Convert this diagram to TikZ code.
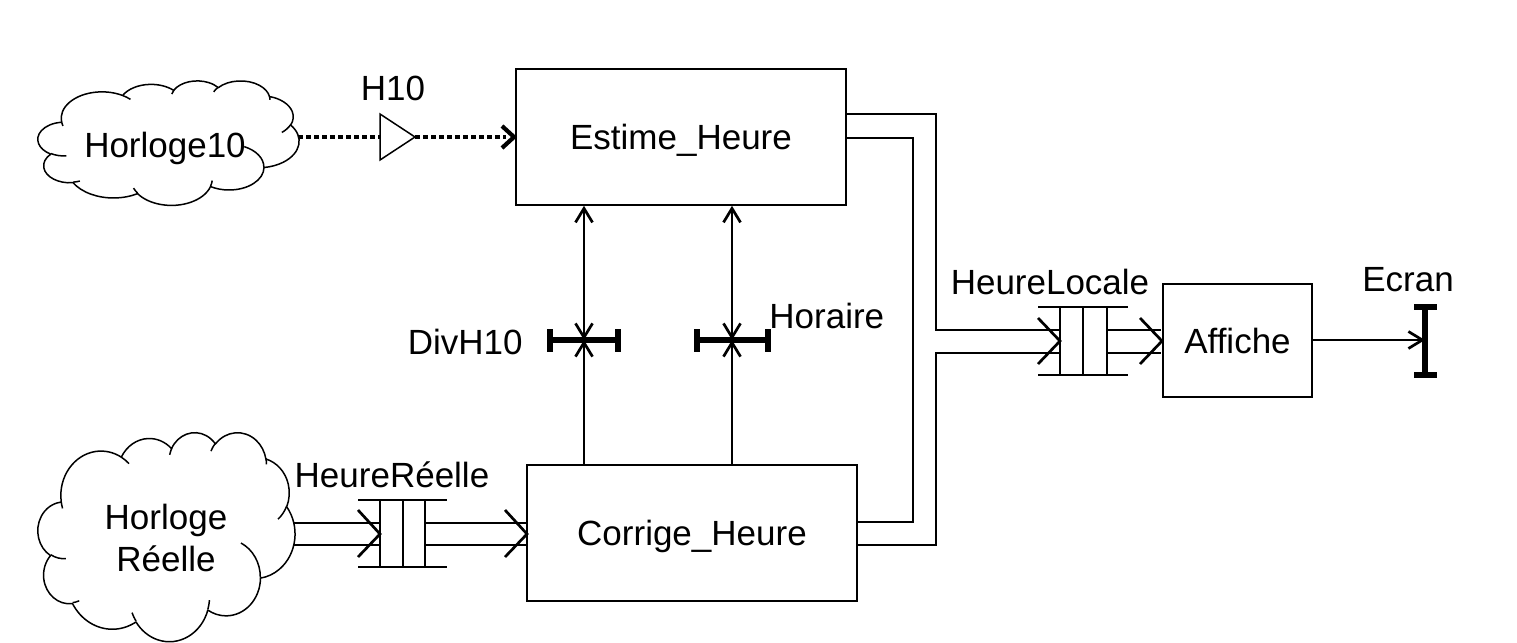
\documentclass[tikz,border=0pt]{standalone}
\usepackage{fontspec}
\setmainfont{Liberation Sans}
\usetikzlibrary{arrows.meta}
\newcommand\drawofficecloud{%
    \draw[cloudln] (390,1437)
      arc[start angle=-187.75, end angle=-59.64, x radius=675.3, y radius=919.0]
      arc[start angle=-152.02, end angle=-45.46, x radius=533.3, y radius=726.7]
      arc[start angle=-153.48, end angle=-37.32, x radius=436.5, y radius=594.5]
      arc[start angle=-139.70, end angle=-10.21, x radius=485.7, y radius=659.5]
      arc[start angle=-74.77, end angle=23.21, x radius=533.3, y radius=727.3]
      arc[start angle=-37.53, end angle=81.87, x radius=677.5, y radius=922.0]
      arc[start angle=0.46, end angle=121.98, x radius=578.5, y radius=786.7]
      arc[start angle=16.85, end angle=146.22, x radius=675.2, y radius=921.5]
      arc[start angle=58.98, end angle=150.19, x radius=772.0, y radius=1054.3]
      arc[start angle=83.30, end angle=223.12, x radius=436.0, y radius=591.8]
      arc[start angle=120.36, end angle=264.11, x radius=434.5, y radius=594.5]
      -- cycle;
    \draw[cloudln]
      (469.3,2617.7) arc[start angle=85.55, end angle=120.36, x radius=434.5, y radius=594.5]
      (692.8,3489.9) arc[start angle=68.23, end angle=83.30, x radius=436.0, y radius=591.8]
      (1647.8,3909.0) arc[start angle=146.22, end angle=158.47, x radius=675.2, y radius=921.5]
      (2882.7,3475.1) arc[start angle=4.74, end angle=16.85, x radius=675.2, y radius=921.5]
      (3412.9,2295.4) arc[start angle=-64.03, end angle=0.46, x radius=578.5, y radius=786.7]
      (4179.8,1535.4) arc[start angle=23.21, end angle=49.64, x radius=533.3, y radius=727.3]
      (3832.4,542.6) arc[start angle=-10.21, end angle=0.82, x radius=485.7, y radius=659.5]
      (2907.8,395.2) arc[start angle=-156.29, end angle=-139.70, x radius=485.7, y radius=659.5]
      (2214.1,472.0) arc[start angle=-167.73, end angle=-153.48, x radius=436.5, y radius=594.5]
      (1400.0,519.2) arc[start angle=-59.64, end angle=-45.74, x radius=675.3, y radius=919.0]
      (412.7,1578.9) arc[start angle=163.20, end angle=172.25, x radius=675.3, y radius=919.0];
}
\begin{document}
\begin{tikzpicture}[x=0.5pt,y=-0.5pt,
  every node/.style={font=\fontsize{17.5}{21}\selectfont, inner sep=0pt},
  capc/.style={text height=12.6pt, text depth=0pt},
  box/.style={draw, line width=0.8pt, minimum width=165pt, minimum height=68pt, capc},
  cloudln/.style={line width=0.75pt, line join=round},
  ln/.style={line width=1.35pt},
  tip/.style={-{Straight Barb[length=7pt,width=8.5pt]}},
  bitip/.style={{Straight Barb[length=7pt,width=8.5pt]}-{Straight Barb[length=7pt,width=8.5pt]}},
  barln/.style={line width=2.7pt},
  chev/.style={line width=1.35pt, line join=miter},
  dotln/.style={line width=2.1pt, dash pattern=on 2.5pt off 1.5pt},
]
\useasboundingbox (0,0) rectangle (1517,643);

% processes
\node[box] (est) at (681,137) {Estime\_Heure};
\node[box] (cor) at (692,533) {Corrige\_Heure};
\node[box, minimum width=74.5pt, minimum height=56.5pt] (aff) at (1237.5,340.5) {Affiche};

% clouds (external entities)
\begin{scope}[shift={(38,80.5)}, x=0.0302085pt, y=-0.0144097pt]
  \drawofficecloud
\end{scope}
\node[capc] (c1) at (165,144.5) {Horloge10};
\begin{scope}[shift={(38,432)}, x=0.0297454pt, y=-0.0241898pt]
  \drawofficecloud
\end{scope}
\node[align=center] (c2) at (166,537.5) {Horloge\\Réelle};
\coordinate (c1e) at (298,137);
\coordinate (c2a) at (294,523);
\coordinate (c2b) at (294,545);

% H10 signal
\node (h10) at (393,88) {H10};
\coordinate (trL) at (380,137);
\coordinate (trR) at (415,137);
\draw[line width=0.75pt] (380,114) -- (trR) -- (380,160) -- cycle;
\draw[dotln] (c1e) -- (trL);
\draw[dotln] (trR) -- (506,137);
\draw[line width=2.1pt, line join=miter] (502,126) -- (514,137) -- (502,148);

% shared variables
\node[anchor=east] (divh) at (523,342) {DivH10};
\node[anchor=west] (hor) at (769,316) {Horaire};
\coordinate (v1) at (584,340);
\coordinate (v2) at (732,340);
\draw[ln, bitip] (est.south -| v1) -- (v1);
\draw[ln, tip] (cor.north -| v1) -- (v1);
\draw[ln, bitip] (est.south -| v2) -- (v2);
\draw[ln, tip] (cor.north -| v2) -- (v2);
\draw[barln] (550,340) -- (618,340);
\draw[barln] (550,329) -- (550,352);
\draw[barln] (618,329) -- (618,352);
\draw[barln] (697,340) -- (768,340);
\draw[barln] (697,329) -- (697,352);
\draw[barln] (768,329) -- (768,352);

% HeureReelle queue
\node (hr) at (392,475) {HeureRéelle};
\draw[ln] (c2a) -- (380,523);
\draw[ln] (c2b) -- (380,545);
\draw[chev] (358,510) -- (380,534) -- (358,557);
\draw[ln] (358,500) -- (447,500);
\draw[ln] (358,567) -- (447,567);
\draw[ln] (380,500) -- (380,567);
\draw[ln] (403,500) -- (403,567);
\draw[ln] (425,500) -- (425,567);
\draw[ln] (425,523) -- (526,523);
\draw[ln] (425,545) -- (526,545);
\draw[chev] (505,510) -- (527,534) -- (505,557);

% HeureLocale
\node (hl) at (1050,282) {HeureLocale};
\draw[ln, line join=miter] (846,114) -- (936,114) -- (936,330) -- (1060,330);
\draw[ln, line join=miter] (846,138) -- (913,138) -- (913,522) -- (857,522);
\draw[ln, line join=miter] (857,545) -- (936,545) -- (936,353) -- (1060,353);
\draw[chev] (1038,318) -- (1060,341) -- (1038,364);
\draw[ln] (1038,307) -- (1128,307);
\draw[ln] (1038,375) -- (1128,375);
\draw[ln] (1060,307) -- (1060,375);
\draw[ln] (1083,307) -- (1083,375);
\draw[ln] (1107,307) -- (1107,375);
\draw[ln] (1107,330) -- (1161,330);
\draw[ln] (1107,353) -- (1161,353);
\draw[chev] (1140,318) -- (1162,341) -- (1140,364);

% Ecran
\node (ecr) at (1408,280) {Ecran};
\coordinate (scr) at (1425,340);
\draw[ln, tip] (aff.east |- scr) -- (scr);
\draw[barln] (1425,307) -- (1425,375);
\draw[barln] (1414,307) -- (1437,307);
\draw[barln] (1414,375) -- (1437,375);
\end{tikzpicture}
\end{document}
